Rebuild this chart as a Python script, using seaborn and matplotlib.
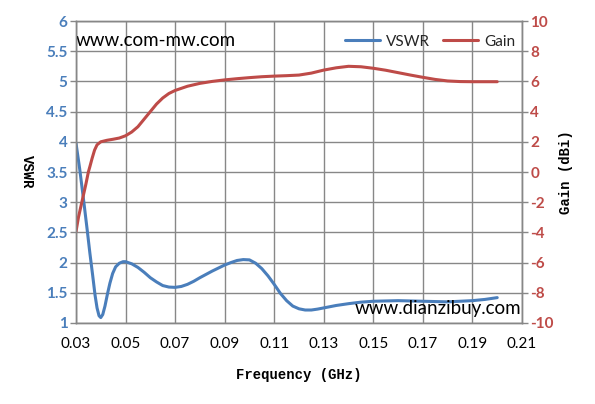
import numpy as np
import pandas as pd
import matplotlib
matplotlib.use("Agg")
import matplotlib.pyplot as plt
import seaborn as sns

# values
freq_vswr = [0.030, 0.0315, 0.033, 0.0345, 0.0356, 0.0367, 0.0377, 0.0385, 0.0393,
             0.040, 0.0408, 0.0417, 0.0427, 0.0437, 0.0448, 0.046, 0.0475, 0.049,
             0.050, 0.0525, 0.055, 0.0575, 0.060, 0.0625, 0.065, 0.0675, 0.070,
             0.0725, 0.075, 0.0775, 0.080, 0.085, 0.090, 0.0925, 0.095, 0.0975,
             0.100, 0.1025, 0.105, 0.1075, 0.110, 0.1125, 0.115, 0.1175, 0.120,
             0.1225, 0.125, 0.1275, 0.130, 0.135, 0.140, 0.145, 0.150, 0.160,
             0.170, 0.180, 0.190, 0.195, 0.200]
vswr = [3.98, 3.55, 3.06, 2.55, 2.16, 1.80, 1.46, 1.25, 1.12,
        1.09, 1.14, 1.28, 1.48, 1.66, 1.82, 1.93, 1.99, 2.015,
        2.015, 1.98, 1.92, 1.84, 1.75, 1.68, 1.62, 1.595, 1.59,
        1.605, 1.64, 1.69, 1.75, 1.86, 1.96, 2.00, 2.035, 2.05,
        2.045, 1.99, 1.90, 1.78, 1.64, 1.49, 1.37, 1.28, 1.235,
        1.215, 1.215, 1.23, 1.25, 1.29, 1.32, 1.345, 1.36, 1.37,
        1.36, 1.35, 1.37, 1.39, 1.42]

freq_gain = [0.030, 0.031, 0.0325, 0.034, 0.035, 0.0356, 0.0365, 0.0375, 0.0385,
             0.040, 0.0425, 0.045, 0.0475, 0.050, 0.0525, 0.055, 0.0575, 0.060,
             0.0625, 0.065, 0.0675, 0.070, 0.075, 0.080, 0.085, 0.090, 0.095,
             0.100, 0.105, 0.110, 0.115, 0.120, 0.125, 0.130, 0.135, 0.140,
             0.145, 0.150, 0.155, 0.160, 0.165, 0.170, 0.175, 0.180, 0.185,
             0.190, 0.200]
gain = [-3.95, -3.0, -1.9, -0.8, 0.0, 0.35, 0.9, 1.45, 1.8,
        2.0, 2.1, 2.17, 2.25, 2.4, 2.65, 3.0, 3.5, 4.0,
        4.5, 4.9, 5.2, 5.4, 5.68, 5.87, 6.0, 6.1, 6.18,
        6.25, 6.31, 6.35, 6.38, 6.42, 6.55, 6.75, 6.9, 7.0,
        6.97, 6.87, 6.74, 6.58, 6.42, 6.27, 6.13, 6.03, 5.99,
        5.98, 5.98]

x_ticks = [0.03, 0.05, 0.07, 0.09, 0.11, 0.13, 0.15, 0.17, 0.19, 0.21]
vswr_ticks = [1, 1.5, 2, 2.5, 3, 3.5, 4, 4.5, 5, 5.5, 6]
gain_ticks = [-10, -8, -6, -4, -2, 0, 2, 4, 6, 8, 10]

blue = "#4A7EBB"
red = "#BE4B48"
grid_c = "#878787"

sns.set_style("white")
plt.rcParams["font.family"] = ["Lato", "DejaVu Sans"]

df_v = pd.DataFrame({"freq": freq_vswr, "vswr": vswr})
df_g = pd.DataFrame({"freq": freq_gain, "gain": gain})

fig = plt.figure(figsize=(5.95, 4.04), dpi=100)
ax = fig.add_axes([0.1277, 0.2005, 0.7496, 0.7475])
ax2 = ax.twinx()

sns.lineplot(data=df_v, x="freq", y="vswr", ax=ax, color=blue, lw=2.2, label="VSWR", legend=False)
sns.lineplot(data=df_g, x="freq", y="gain", ax=ax2, color=red, lw=2.2, label="Gain", legend=False)

ax.set_xlim(0.03, 0.21)
ax.set_ylim(1, 6)
ax2.set_ylim(-10, 10)
ax.set_xticks(x_ticks)
ax.set_xticklabels([f"{t:.2f}" for t in x_ticks], fontsize=11, color="black")
ax.set_yticks(vswr_ticks)
ax.set_yticklabels([f"{t:g}" for t in vswr_ticks], fontsize=11, color=blue, fontweight="bold")
ax2.set_yticks(gain_ticks)
ax2.set_yticklabels([f"{t}" for t in gain_ticks], fontsize=11, color=red, fontweight="bold")

ax.grid(True, color=grid_c, lw=1)
ax.set_axisbelow(True)
for a in (ax, ax2):
    for s in a.spines.values():
        s.set_color(grid_c)
        s.set_linewidth(1)
    a.tick_params(length=4, width=1, color=grid_c, pad=2)
ax.tick_params(axis="x", pad=6)

label_font = dict(family="Liberation Mono", fontsize=10, fontweight="bold", color="black")
ax.set_xlabel("Frequency (GHz)", labelpad=12, **label_font)
ax.set_ylabel("VSWR", rotation=-90, labelpad=14, va="center", **label_font)
ax2.set_ylabel("Gain (dBi)", rotation=90, labelpad=4, **label_font)

ax.text(0.0300, 5.67, "www.com-mw.com", fontsize=13.5, color="black", va="center")
ax.text(0.1423, 1.24, "www.dianzibuy.com", fontsize=13.5, color="black", va="center")

h1, l1 = ax.get_legend_handles_labels()
h2, l2 = ax2.get_legend_handles_labels()
ax2.legend(h1 + h2, l1 + l2, loc="upper right", ncol=2, frameon=False, fontsize=11,
           handlelength=2.3, columnspacing=0.8, handletextpad=0.4,
           bbox_to_anchor=(1.015, 1.0))

fig.savefig("out.png", dpi=100)
